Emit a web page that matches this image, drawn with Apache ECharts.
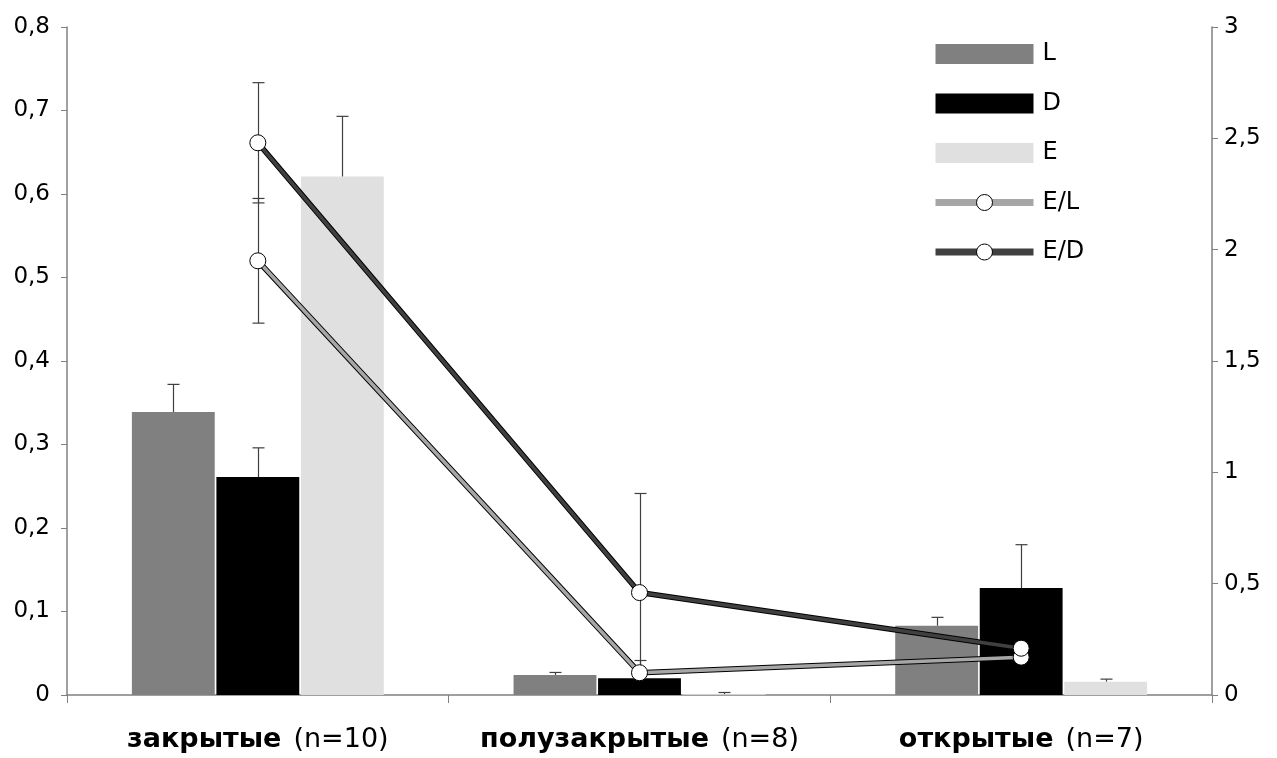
<!DOCTYPE html>
<html>
<head>
<meta charset="utf-8">
<script src="https://cdn.jsdelivr.net/npm/echarts@6/dist/echarts.min.js"></script>
<style>
  html, body { margin: 0; padding: 0; background: #fff; }
  #chart { width: 1277px; height: 758px; }
</style>
</head>
<body>
<div id="chart"></div>
<script>
// категории и объёмы выборок
const categories = ['закрытые', 'полузакрытые', 'открытые'];
const sampleSizes = [10, 8, 7];

// столбцы (левая ось)
const valuesL = [0.339, 0.024, 0.083];
const errL = [0.033, 0.003, 0.010];
const valuesD = [0.261, 0.020, 0.128];
const errD = [0.035, 0.000, 0.052];
const valuesE = [0.621, 0.001, 0.016];
const errE = [0.072, 0.002, 0.003];

// отношения (правая ось), погрешности вверх / вниз
const ratioEL = [1.95, 0.10, 0.17];
const errELup = [0.28, 0.055, 0.0];
const errELdown = [0.28, 0.0, 0.0];
const ratioED = [2.48, 0.46, 0.21];
const errEDup = [0.27, 0.445, 0.0];
const errEDdown = [0.27, 0.36, 0.0];

const leftTicks = { min: 0, max: 0.8, interval: 0.1 };
const rightTicks = { min: 0, max: 3, interval: 0.5 };

const FONT = 'DejaVu Sans';
const CAT_GAP = 0.34;
const BAR_GAP = 0.02;
const BAR_COUNT = 3;

const chart = echarts.init(document.getElementById('chart'));

const commaFmt = v => String(+v.toFixed(2)).replace('.', ',');

// погрешности для столбцов: только вверх
const barErrData = [];
[[valuesL, errL], [valuesD, errD], [valuesE, errE]].forEach(([vals, errs], b) => {
    vals.forEach((v, i) => barErrData.push([i, v, errs[i], b]));
});

const errStyle = { stroke: '#404040', lineWidth: 1.2 };

function renderBarErr(params, api) {
    const i = api.value(0), v = api.value(1), e = api.value(2), b = api.value(3);
    if (!e) return null;
    const band = api.size([1, 0])[0];
    const bw = band * (1 - CAT_GAP) / (BAR_COUNT + (BAR_COUNT - 1) * BAR_GAP);
    const step = bw * (1 + BAR_GAP);
    const base = api.coord([i, v]);
    const top = api.coord([i, v + e]);
    const x = Math.round(base[0] + (b - 1) * step) + 0.5;
    return {
        type: 'group',
        children: [
            { type: 'line', shape: { x1: x, y1: base[1], x2: x, y2: top[1] }, style: errStyle },
            { type: 'line', shape: { x1: x - 6, y1: top[1], x2: x + 6, y2: top[1] }, style: errStyle }
        ]
    };
}

function ratioErrData(vals, up, down) {
    return vals.map((v, i) => [i, v, up[i], down[i]]);
}

function renderRatioErr(params, api) {
    const i = api.value(0), v = api.value(1), eu = api.value(2), ed = api.value(3);
    if (!eu && !ed) return null;
    const mid = api.coord([i, v]);
    const hi = api.coord([i, v + eu]);
    const lo = api.coord([i, Math.max(0, v - ed)]);
    const x = Math.round(mid[0]) + 0.5;
    const kids = [{ type: 'line', shape: { x1: x, y1: hi[1], x2: x, y2: lo[1] }, style: errStyle }];
    if (eu) kids.push({ type: 'line', shape: { x1: x - 6, y1: hi[1], x2: x + 6, y2: hi[1] }, style: errStyle });
    if (ed) kids.push({ type: 'line', shape: { x1: x - 6, y1: lo[1], x2: x + 6, y2: lo[1] }, style: errStyle });
    return { type: 'group', children: kids };
}

const marker = { color: '#fff', borderColor: '#000', borderWidth: 1 };

const option = {
    animation: false,
    backgroundColor: '#fff',
    textStyle: { fontFamily: FONT },
    grid: { left: 67, right: 65, top: 27, bottom: 63 },
    legend: {
        orient: 'vertical',
        left: 932,
        top: 42,
        padding: 0,
        itemWidth: 98,
        itemHeight: 20,
        itemGap: 25.5,
        textStyle: { fontFamily: FONT, fontSize: 24, color: '#000', lineHeight: 20, padding: [0, 0, 0, 4] },
        data: [
            { name: 'L', icon: 'rect' },
            { name: 'D', icon: 'rect' },
            { name: 'E', icon: 'rect' },
            { name: 'E/L', lineStyle: { width: 7, color: '#a6a6a6' }, itemStyle: marker },
            { name: 'E/D', lineStyle: { width: 7, color: '#404040' }, itemStyle: marker }
        ]
    },
    xAxis: {
        type: 'category',
        data: categories,
        axisLine: { lineStyle: { color: '#808080', width: 1.5 } },
        axisTick: { show: true, length: 8, lineStyle: { color: '#808080' } },
        axisLabel: {
            margin: 31,
            formatter: (val, idx) => '{b|' + val + '}{n|(n=' + sampleSizes[idx] + ')}',
            rich: {
                b: { fontFamily: FONT, fontSize: 27, fontWeight: 'bold', color: '#000', padding: [0, 12, 0, 0] },
                n: { fontFamily: FONT, fontSize: 27, color: '#000' }
            }
        }
    },
    yAxis: [
        {
            type: 'value',
            min: leftTicks.min, max: leftTicks.max, interval: leftTicks.interval,
            splitLine: { show: false },
            axisLine: { show: true, lineStyle: { color: '#808080', width: 1.5 } },
            axisTick: { show: true, length: 6, lineStyle: { color: '#808080' } },
            axisLabel: { fontFamily: FONT, fontSize: 23, color: '#000', margin: 17, formatter: commaFmt }
        },
        {
            type: 'value',
            min: rightTicks.min, max: rightTicks.max, interval: rightTicks.interval,
            splitLine: { show: false },
            axisLine: { show: true, lineStyle: { color: '#808080', width: 1.5 } },
            axisTick: { show: true, length: 6, lineStyle: { color: '#808080' } },
            axisLabel: { fontFamily: FONT, fontSize: 23, color: '#000', margin: 12, formatter: commaFmt }
        }
    ],
    series: [
        { name: 'L', type: 'bar', data: valuesL, barCategoryGap: CAT_GAP * 100 + '%', barGap: BAR_GAP * 100 + '%',
          itemStyle: { color: '#808080' }, z: 2 },
        { name: 'D', type: 'bar', data: valuesD, barCategoryGap: CAT_GAP * 100 + '%', barGap: BAR_GAP * 100 + '%',
          itemStyle: { color: '#000000' }, z: 2 },
        { name: 'E', type: 'bar', data: valuesE, barCategoryGap: CAT_GAP * 100 + '%', barGap: BAR_GAP * 100 + '%',
          itemStyle: { color: '#e0e0e0' }, z: 2 },
        { name: 'barErr', type: 'custom', renderItem: renderBarErr, data: barErrData,
          encode: { x: 0, y: 1 }, z: 3, silent: true },
        { name: 'errEL', type: 'custom', renderItem: renderRatioErr, data: ratioErrData(ratioEL, errELup, errELdown),
          yAxisIndex: 1, encode: { x: 0, y: 1 }, z: 4, silent: true },
        { name: 'errED', type: 'custom', renderItem: renderRatioErr, data: ratioErrData(ratioED, errEDup, errEDdown),
          yAxisIndex: 1, encode: { x: 0, y: 1 }, z: 4, silent: true },
        // чёрная окантовка линий
        { name: 'outlineEL', type: 'line', yAxisIndex: 1, data: ratioEL, symbol: 'none',
          lineStyle: { color: '#000', width: 5.5 }, z: 5, silent: true },
        { name: 'E/L', type: 'line', yAxisIndex: 1, data: ratioEL, symbol: 'circle', symbolSize: 16,
          lineStyle: { color: '#a6a6a6', width: 3.5 }, itemStyle: marker, z: 6 },
        { name: 'outlineED', type: 'line', yAxisIndex: 1, data: ratioED, symbol: 'none',
          lineStyle: { color: '#000', width: 5.5 }, z: 7, silent: true },
        { name: 'E/D', type: 'line', yAxisIndex: 1, data: ratioED, symbol: 'circle', symbolSize: 16,
          lineStyle: { color: '#404040', width: 3.5 }, itemStyle: marker, z: 8 }
    ]
};

chart.setOption(option);
</script>
</body>
</html>
